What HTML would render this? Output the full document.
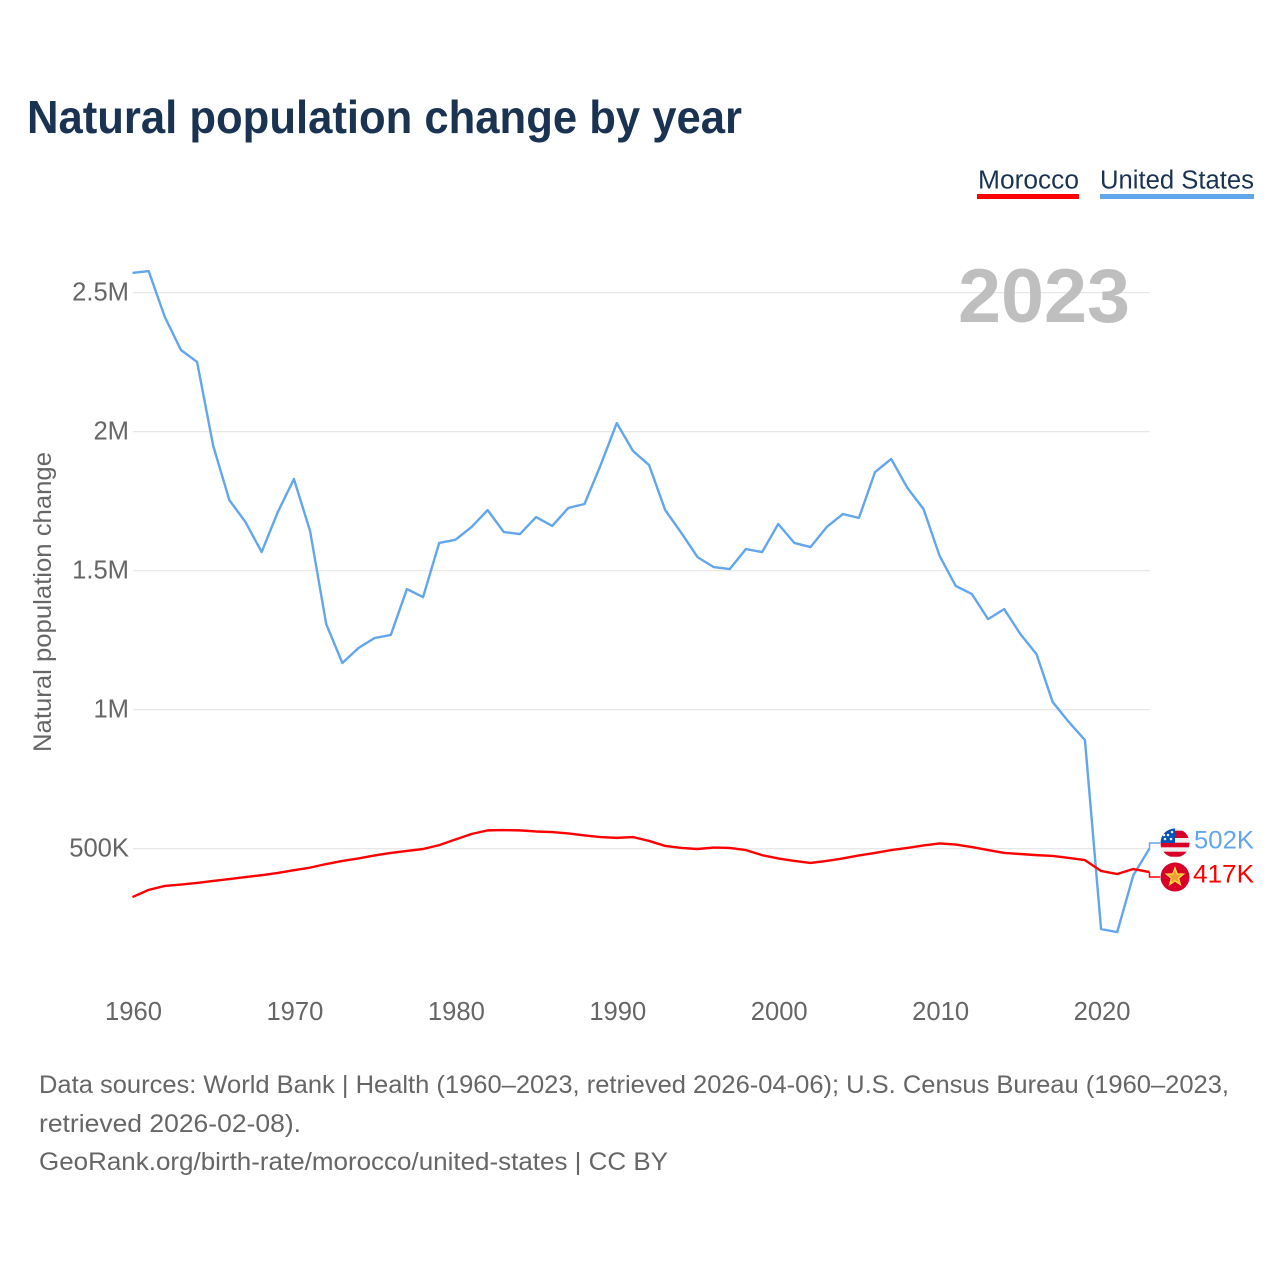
<!DOCTYPE html>
<html lang="en">
<head>
<meta charset="utf-8">
<title>Natural population change by year</title>
<style>
html,body{margin:0;padding:0;background:#fff;width:1280px;height:1280px;overflow:hidden}
svg{display:block}
text{font-family:"Liberation Sans",sans-serif}
</style>
</head>
<body>
<svg id="chart" xmlns="http://www.w3.org/2000/svg" width="1280" height="1280" viewBox="0 0 1280 1280">
  <defs>
    <clipPath id="us-clip"><circle cx="1175" cy="843" r="14.5"/></clipPath>
  </defs>
  <text x="27" y="133" font-size="46" font-weight="700" fill="#1a3352" textLength="715" lengthAdjust="spacingAndGlyphs">Natural population change by year</text>

  <text x="978" y="188.5" font-size="25.5" fill="#1a3352" textLength="101" lengthAdjust="spacingAndGlyphs">Morocco</text>
  <rect x="977" y="194" width="102" height="5" fill="#ff0000"/>
  <text x="1100" y="188.5" font-size="25.5" fill="#1a3352" textLength="154" lengthAdjust="spacingAndGlyphs">United States</text>
  <rect x="1100" y="194" width="154" height="5" fill="#62a6ec"/>

  <g id="grid"></g>
  <g id="y-ticks"></g>
  <g id="x-ticks"></g>

  <text x="1130" y="322" font-size="76" font-weight="700" fill="#bfbfbf" text-anchor="end" textLength="172" lengthAdjust="spacingAndGlyphs">2023</text>

  <text transform="translate(51,602) rotate(-90)" font-size="25" fill="#666666" text-anchor="middle" textLength="300" lengthAdjust="spacingAndGlyphs">Natural population change</text>

  <path id="line-us" fill="none" stroke="#62a6ec" stroke-width="2.4" stroke-linejoin="round"/>
  <path id="line-ma" fill="none" stroke="#ff0000" stroke-width="2.4" stroke-linejoin="round"/>
  <path id="leader-us" fill="none" stroke="#62a6ec" stroke-width="1.5"/>
  <path id="leader-ma" fill="none" stroke="#ff0000" stroke-width="1.5"/>

  <g clip-path="url(#us-clip)">
    <rect x="1160" y="828" width="30" height="30" fill="#eeeeee"/>
    <rect x="1160" y="830.7" width="30" height="7.3" fill="#d80027"/>
    <rect x="1160" y="842.7" width="30" height="4.6" fill="#d80027"/>
    <rect x="1160" y="851.7" width="30" height="5" fill="#d80027"/>
    <rect x="1160" y="828" width="15" height="15" fill="#0052b4"/>
    <circle cx="1165" cy="839" r="1.3" fill="#eeeeee"/>
    <circle cx="1171" cy="839" r="1.3" fill="#eeeeee"/>
    <circle cx="1168" cy="835" r="1.3" fill="#eeeeee"/>
    <circle cx="1172" cy="832" r="1.3" fill="#eeeeee"/>
    <circle cx="1164" cy="835" r="1.3" fill="#eeeeee"/>
  </g>
  <g>
    <circle cx="1175" cy="877" r="14.5" fill="#d80027"/>
    <polygon points="1175,868 1177.2,874 1183.5,874.2 1178.5,878.2 1180.3,884.5 1175,880.9 1169.7,884.5 1171.5,878.2 1166.5,874.2 1172.8,874" fill="#f0a030" stroke="#ffda44" stroke-width="1.4"/>
  </g>

  <text id="value-us" x="1194" y="848.5" font-size="25" fill="#62a6ec" textLength="60" lengthAdjust="spacingAndGlyphs">502K</text>
  <text id="value-ma" x="1193" y="882.5" font-size="25" fill="#ff0000" textLength="61" lengthAdjust="spacingAndGlyphs">417K</text>

  <text x="39" y="1093" font-size="25" fill="#666666" textLength="1190" lengthAdjust="spacingAndGlyphs">Data sources: World Bank | Health (1960–2023, retrieved 2026-04-06); U.S. Census Bureau (1960–2023,</text>
  <text x="39" y="1132" font-size="25" fill="#666666" textLength="262" lengthAdjust="spacingAndGlyphs">retrieved 2026-02-08).</text>
  <text x="39" y="1170" font-size="25" fill="#666666" textLength="629" lengthAdjust="spacingAndGlyphs">GeoRank.org/birth-rate/morocco/united-states | CC BY</text>
</svg>
<script>
const firstYear = 1960;
const usValues = [2572,2579,2414,2295,2252,1950,1755,1676,1568,1712,1831,1644,1309,1169,1223,1259,1270,1435,1406,1601,1612,1658,1719,1640,1633,1694,1662,1727,1741,1881,2032,1932,1881,1719,1637,1550,1514,1507,1579,1568,1669,1601,1586,1658,1705,1691,1856,1903,1799,1723,1554,1446,1417,1327,1363,1273,1201,1029,957,892,212,201,406,502];
const moroccoValues = [327,353,367,372,378,385,392,399,406,414,424,433,446,457,466,477,486,493,500,514,534,554,567,568,567,563,561,556,549,543,540,543,529,511,504,500,505,504,496,478,466,457,450,457,466,477,486,496,504,513,520,516,507,496,486,482,478,475,468,460,421,410,428,417];
const yTickValues = [500,1000,1500,2000,2500];
const yTickLabels = ["500K","1M","1.5M","2M","2.5M"];
const xTickYears = [1960,1970,1980,1990,2000,2010,2020];

const NS = "http://www.w3.org/2000/svg";
function xScale(year){ return 132.5 + (year - 1960) * (1149.5 - 132.5) / 63; }
function yScale(v){ return 849 - (v - 500) * 0.278; }
function linePath(values){
  return values.map((v, i) => (i ? "L" : "M") + xScale(firstYear + i).toFixed(2) + " " + yScale(v).toFixed(2)).join(" ");
}
function addText(parent, x, y, label, anchor){
  const t = document.createElementNS(NS, "text");
  t.setAttribute("x", x);
  t.setAttribute("y", y);
  t.setAttribute("font-size", "25.6");
  t.setAttribute("fill", "#666666");
  t.setAttribute("text-anchor", anchor);
  t.textContent = label;
  parent.appendChild(t);
  return t;
}
const grid = document.getElementById("grid");
const yTicks = document.getElementById("y-ticks");
const xTicks = document.getElementById("x-ticks");
yTickValues.forEach((v, i) => {
  const l = document.createElementNS(NS, "line");
  l.setAttribute("x1", 133);
  l.setAttribute("x2", 1150);
  l.setAttribute("y1", yScale(v) - 0.4);
  l.setAttribute("y2", yScale(v) - 0.4);
  l.setAttribute("stroke", "#e8e8e8");
  l.setAttribute("stroke-width", "1.3");
  
  
  grid.appendChild(l);
  const t = addText(yTicks, 129, yScale(v) + 7.5, yTickLabels[i], "end");
  
  
});
xTickYears.forEach(y => {
  const t = addText(xTicks, xScale(y) + 1, 1020, String(y), "middle");
  
  
});
document.getElementById("line-us").setAttribute("d", linePath(usValues));
document.getElementById("line-ma").setAttribute("d", linePath(moroccoValues));
const endX = xScale(firstYear + usValues.length - 1);
const usEndY = yScale(usValues[usValues.length - 1]);
const maEndY = yScale(moroccoValues[moroccoValues.length - 1]);
document.getElementById("leader-us").setAttribute("d", "M" + endX + " " + usEndY + " V843 H1160");
document.getElementById("leader-ma").setAttribute("d", "M" + endX + " " + maEndY + " V877 H1160");
</script>
</body>
</html>
